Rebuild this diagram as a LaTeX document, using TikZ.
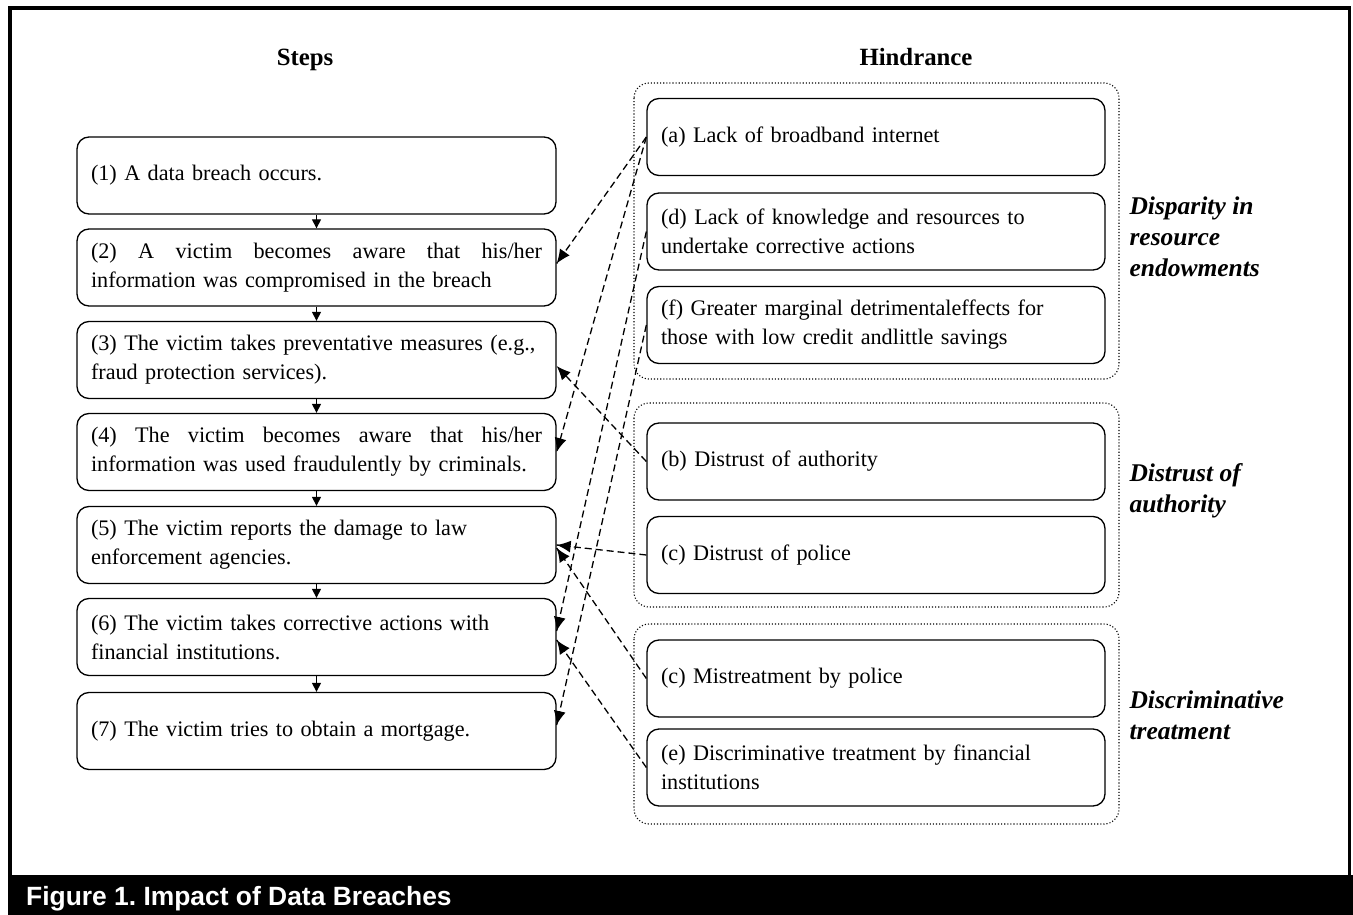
\documentclass[tikz,border=0pt]{standalone}
\usepackage{fontspec}
\setmainfont{Liberation Serif}
\newfontfamily\capfont{Liberation Sans}
\usetikzlibrary{arrows.meta,calc}
\frenchspacing
\newcommand\dconn[2]{%
  \draw[conn] (#1) -- (#2);
  \draw[conntip] ($(#2)!14pt!(#1)$) -- (#2);}
\begin{document}
\begin{tikzpicture}[x=1pt,y=-1pt,
  txt/.style={font=\fontsize{22.2}{29}\selectfont},
  stepbox/.style={txt, draw, line width=1.3pt, rounded corners=12pt, minimum width=479pt, minimum height=77pt, text width=451pt, inner xsep=14pt, inner ysep=0pt, align=left},
  hbox/.style={txt, draw, line width=1.3pt, rounded corners=12pt, minimum width=458pt, minimum height=77pt, text width=430pt, inner xsep=14pt, inner ysep=0pt, align=left},
  group/.style={draw, line width=1.1pt, dotted, rounded corners=15pt},
  heading/.style={font=\fontsize{24.8}{29}\selectfont\bfseries, anchor=base},
  glabel/.style={font=\fontsize{25.5}{31}\selectfont\bfseries\itshape, align=left, anchor=west},
  steparrow/.style={line width=1.2pt, -{Triangle[length=9pt,width=9pt]}},
  conn/.style={line width=1.3pt, dash pattern=on 7pt off 4pt},
  conntip/.style={line width=1.3pt, solid, -{Latex[length=14pt,width=12pt]}}
]
\useasboundingbox (0,0) rectangle (1353,915);
% frame and caption bar
\draw[line width=3.4pt] (10,876) -- (10,8) -- (1349.5,8) -- (1349.5,876);
\fill[black] (8.3,875) rectangle (1353,915);
\node[anchor=base west, text=white, inner sep=0pt, font=\capfont\fontsize{26.4}{30}\selectfont\bfseries] (cap) at (26,905) {Figure 1. Impact of Data Breaches};

% headings
\node[heading] (hsteps) at (305,66) {Steps};
\node[heading] (hhind) at (916,66) {Hindrance};

% step boxes
\node[stepbox] (s1) at (316.5,175.5) {(1) A data breach occurs.};
\node[stepbox] (s2) at (316.5,267.5) {\hbox to 451pt{(2) \hfill A \hfill victim \hfill becomes \hfill aware \hfill that \hfill his/her}\\information was compromised in the breach};
\node[stepbox] (s3) at (316.5,360) {\mbox{(3) The victim takes preventative measures (e.g.,}\\fraud protection services).};
\node[stepbox] (s4) at (316.5,452) {\hbox to 451pt{(4) \hfill The \hfill victim \hfill becomes \hfill aware \hfill that \hfill his/her}\\information was used fraudulently by criminals.};
\node[stepbox] (s5) at (316.5,545) {(5) The victim reports the damage to law\\enforcement agencies.};
\node[stepbox] (s6) at (316.5,637) {(6) The victim takes corrective actions with\\financial institutions.};
\node[stepbox] (s7) at (316.5,731) {(7) The victim tries to obtain a mortgage.};

\foreach \a/\b in {s1/s2,s2/s3,s3/s4,s4/s5,s5/s6,s6/s7}
  \draw[steparrow] (\a) -- (\b);

% groups
\draw[group] (634,83) rectangle (1119,379);
\draw[group] (634,403) rectangle (1119,607);
\draw[group] (634,624) rectangle (1119,824);

% hindrance boxes
\node[hbox] (ha) at (876,137) {(a) Lack of broadband internet};
\node[hbox] (hd) at (876,231.5) {(d) Lack of knowledge and resources to\\undertake corrective actions};
\node[hbox] (hf) at (876,325) {(f) Greater marginal detrimentaleffects for\\those with low credit andlittle savings};
\node[hbox] (hb) at (876,461.5) {(b) Distrust of authority};
\node[hbox] (hc) at (876,555) {(c) Distrust of police};
\node[hbox] (hcm) at (876,678.5) {(c) Mistreatment by police};
\node[hbox] (he) at (876,767.5) {(e) Discriminative treatment by financial\\institutions};

% group labels
\node[glabel] (g1) at (1126,237) {Disparity in\\resource\\endowments};
\node[glabel] (g2) at (1126,491) {Distrust of\\authority};
\node[glabel] (g3) at (1126,715.5) {Discriminative\\treatment};

% connector end points on the step boxes
\coordinate (e2) at ([yshift=4pt]s2.east);
\coordinate (e3) at ([yshift=-6pt]s3.east);
\coordinate (e4) at (s4.east);
\coordinate (e5a) at (s5.east);
\coordinate (e5b) at ([yshift=-3pt]s5.east);
\coordinate (e6a) at ([yshift=6pt]s6.east);
\coordinate (e6b) at ([yshift=-3pt]s6.east);
\coordinate (e7) at ([yshift=6pt]s7.east);

% connectors
\dconn{ha.west}{e2}
\dconn{ha.west}{e4}
\dconn{hd.west}{e6a}
\dconn{hf.west}{e7}
\dconn{hb.west}{e3}
\dconn{hc.west}{e5a}
\dconn{hcm.west}{e5b}
\dconn{he.west}{e6b}
\end{tikzpicture}
\end{document}
